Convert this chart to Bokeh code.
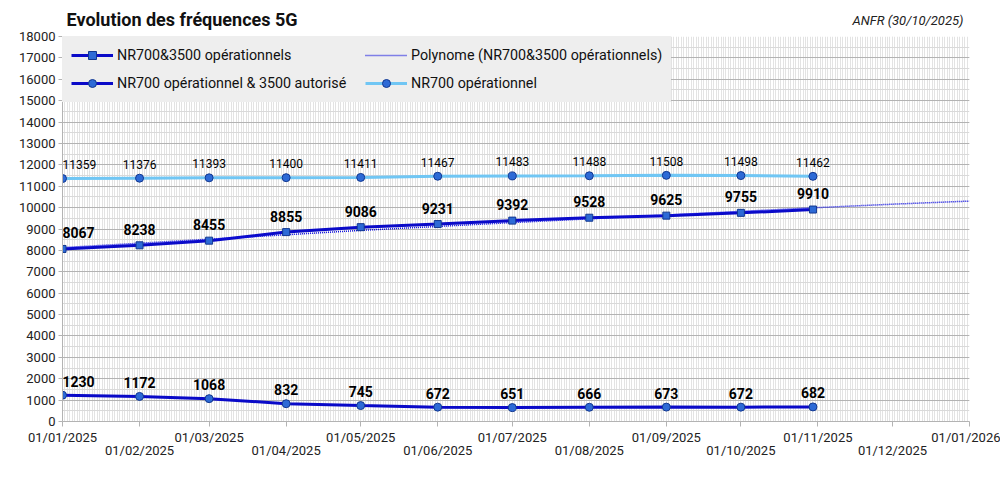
import numpy as np
import pandas as pd
from bokeh.plotting import figure
from bokeh.layouts import column
from bokeh.models import (ColumnDataSource, Range1d, FixedTicker, SingleIntervalTicker,
                          LinearAxis, Legend, LegendItem)
from bokeh.core.properties import value
from bokeh.embed import file_html
from bokeh.resources import INLINE

# ---------------- data ----------------
dates = ["01/01/2025", "01/02/2025", "01/03/2025", "01/04/2025", "01/05/2025", "01/06/2025",
         "01/07/2025", "01/08/2025", "01/09/2025", "01/10/2025", "30/10/2025"]
nr700_3500_ops = [8067, 8238, 8455, 8855, 9086, 9231, 9392, 9528, 9625, 9755, 9910]
nr700_ops_3500_auth = [1230, 1172, 1068, 832, 745, 672, 651, 666, 673, 672, 682]
nr700_ops = [11359, 11376, 11393, 11400, 11411, 11467, 11483, 11488, 11508, 11498, 11462]
tick_labels = ["01/01/2025", "01/02/2025", "01/03/2025", "01/04/2025", "01/05/2025",
               "01/06/2025", "01/07/2025", "01/08/2025", "01/09/2025", "01/10/2025",
               "01/11/2025", "01/12/2025", "01/01/2026"]
# polynomial trend line values at each month start
trend_vals = [8130, 8335, 8525, 8730, 8935, 9120, 9300, 9475, 9655, 9825, 10000, 10160, 10305]
title_text = "Evolution des fréquences 5G"
source_text = "ANFR (30/10/2025)"
names = ["NR700&3500 opérationnels", "Polynome (NR700&3500 opérationnels)",
         "NR700 opérationnel & 3500 autorisé", "NR700 opérationnel"]

# ---------------- derived ----------------
origin = pd.Timestamp("2025-01-01")
xd = [(pd.to_datetime(d, dayfirst=True) - origin).days for d in dates]
tick_days = [(pd.to_datetime(d, dayfirst=True) - origin).days for d in tick_labels]
end_day = tick_days[-1]

FONT = "Roboto"
DARK = "#0a0ac8"
LIGHT = "#70c6f4"
MFILL = "#2d6ad6"
MLINE = "#12378f"
W = 1000
FRAME_L, FRAME_R = 62, 969   # frame edges in page pixels (header frame is aligned to it)

# ---------------- header (title + source) ----------------
HEAD_H = 30
head = figure(width=W, height=HEAD_H, x_range=Range1d(FRAME_L, FRAME_R), y_range=Range1d(0, HEAD_H),
              output_backend="svg", toolbar_location=None, x_axis_location=None,
              y_axis_location=None, min_border=0)
head.outline_line_color = None
head.grid.visible = False
head.title.visible = False
head.text(x=[66], y=[HEAD_H - 19], text=[title_text], text_align="left", text_baseline="middle",
          text_font=value(FONT), text_font_size="18px", text_font_style="bold", text_color="#111111")
head.text(x=[963], y=[HEAD_H - 20], text=[source_text], text_align="right", text_baseline="middle",
          text_font=value(FONT), text_font_size="13px", text_font_style="italic", text_color="#222222")

# ---------------- main plot ----------------
p = figure(width=W, height=455, x_range=Range1d(0, end_day), y_range=Range1d(0, 18000),
           output_backend="svg", toolbar_location=None,
           min_border_left=FRAME_L, min_border_right=W - FRAME_R, min_border_top=36 - HEAD_H,
           min_border_bottom=64)
p.title.visible = False
p.outline_line_color = None
p.background_fill_color = "white"

xa = p.xaxis[0]
xa.ticker = FixedTicker(ticks=tick_days, minor_ticks=list(range(0, end_day + 1)))
xa.major_label_overrides = {float(t): (lab if i % 2 == 0 else "")
                            for i, (t, lab) in enumerate(zip(tick_days, tick_labels))}
xa.axis_line_color = "#b3b3b3"
xa.major_tick_line_color = "#b3b3b3"
xa.major_tick_out = 5
xa.major_tick_in = 0
xa.minor_tick_line_color = None
xa.major_label_standoff = 3
xa.major_label_text_font = FONT
xa.major_label_text_font_size = "13px"
xa.major_label_text_color = "#222222"

xa2 = LinearAxis(ticker=FixedTicker(ticks=tick_days[1::2]))
xa2.major_label_overrides = {float(t): lab for t, lab in zip(tick_days[1::2], tick_labels[1::2])}
xa2.axis_line_color = None
xa2.major_tick_line_color = None
xa2.major_tick_out = 0
xa2.major_tick_in = 0
xa2.minor_tick_line_color = None
xa2.major_label_standoff = -5
xa2.major_label_text_font = FONT
xa2.major_label_text_font_size = "13px"
xa2.major_label_text_color = "#222222"
p.add_layout(xa2, "below")

ya = p.yaxis[0]
ya.ticker = SingleIntervalTicker(interval=1000, num_minor_ticks=2)
ya.axis_line_color = "#b3b3b3"
ya.major_tick_line_color = "#b3b3b3"
ya.major_tick_out = 4
ya.major_tick_in = 0
ya.minor_tick_line_color = None
ya.major_label_standoff = 3
ya.major_label_text_font = FONT
ya.major_label_text_font_size = "13px"
ya.major_label_text_color = "#222222"

p.xgrid.grid_line_color = "#e3e3e3"
p.xgrid.minor_grid_line_color = "#e3e3e3"
p.ygrid.grid_line_color = "#b3b3b3"
p.ygrid.minor_grid_line_color = "#d9d9d9"

# series
rA_line = p.line(xd, nr700_3500_ops, line_color=DARK, line_width=3)
rB = p.line(tick_days, trend_vals, line_color="#1010e0", line_width=1.5, line_dash="1 1")
rA_pts = p.scatter(xd, nr700_3500_ops, marker="square", size=7, fill_color=MFILL, line_color=MLINE)
rC_line = p.line(xd, nr700_ops_3500_auth, line_color=DARK, line_width=3)
rC_pts = p.scatter(xd, nr700_ops_3500_auth, marker="circle", size=8, fill_color=MFILL, line_color=MLINE)
rD_line = p.line(xd, nr700_ops, line_color=LIGHT, line_width=3)
rD_pts = p.scatter(xd, nr700_ops, marker="circle", size=8, fill_color=MFILL, line_color=MLINE)

# data labels
aligns = ["left"] + ["center"] * (len(xd) - 1)
for vals, size, style, off in [(nr700_3500_ops, "14px", "bold", -16),
                               (nr700_ops_3500_auth, "14px", "bold", -14),
                               (nr700_ops, "12px", "normal", -14)]:
    src = ColumnDataSource(dict(x=xd, y=vals, t=[str(v) for v in vals], a=aligns))
    p.text(x="x", y="y", text="t", text_align="a", source=src, text_baseline="middle",
           y_offset=off, text_font=value(FONT), text_font_size=size,
           text_font_style=style, text_color="#000000")

# legend (column-major fill: A, C in first column; B, D in second)
legend = Legend(items=[LegendItem(label=names[0], renderers=[rA_line, rA_pts]),
                       LegendItem(label=names[2], renderers=[rC_line, rC_pts]),
                       LegendItem(label=names[1], renderers=[rB]),
                       LegendItem(label=names[3], renderers=[rD_line, rD_pts])],
                location="top_left", ncols=2)
legend.background_fill_color = "#eeeeee"
legend.background_fill_alpha = 1
legend.border_line_color = "#eeeeee"   # keeps padding active
legend.border_line_width = 1
legend.padding = 8
legend.margin = 0
legend.spacing = 8
legend.glyph_width = 42
legend.glyph_height = 20
legend.label_height = 20
legend.label_width = 240
legend.label_standoff = 4
legend.label_text_font = FONT
legend.label_text_font_size = "14.3px"
legend.label_text_color = "#111111"
p.add_layout(legend)

open("out.html", "w").write(file_html(column(head, p, spacing=0), INLINE))
